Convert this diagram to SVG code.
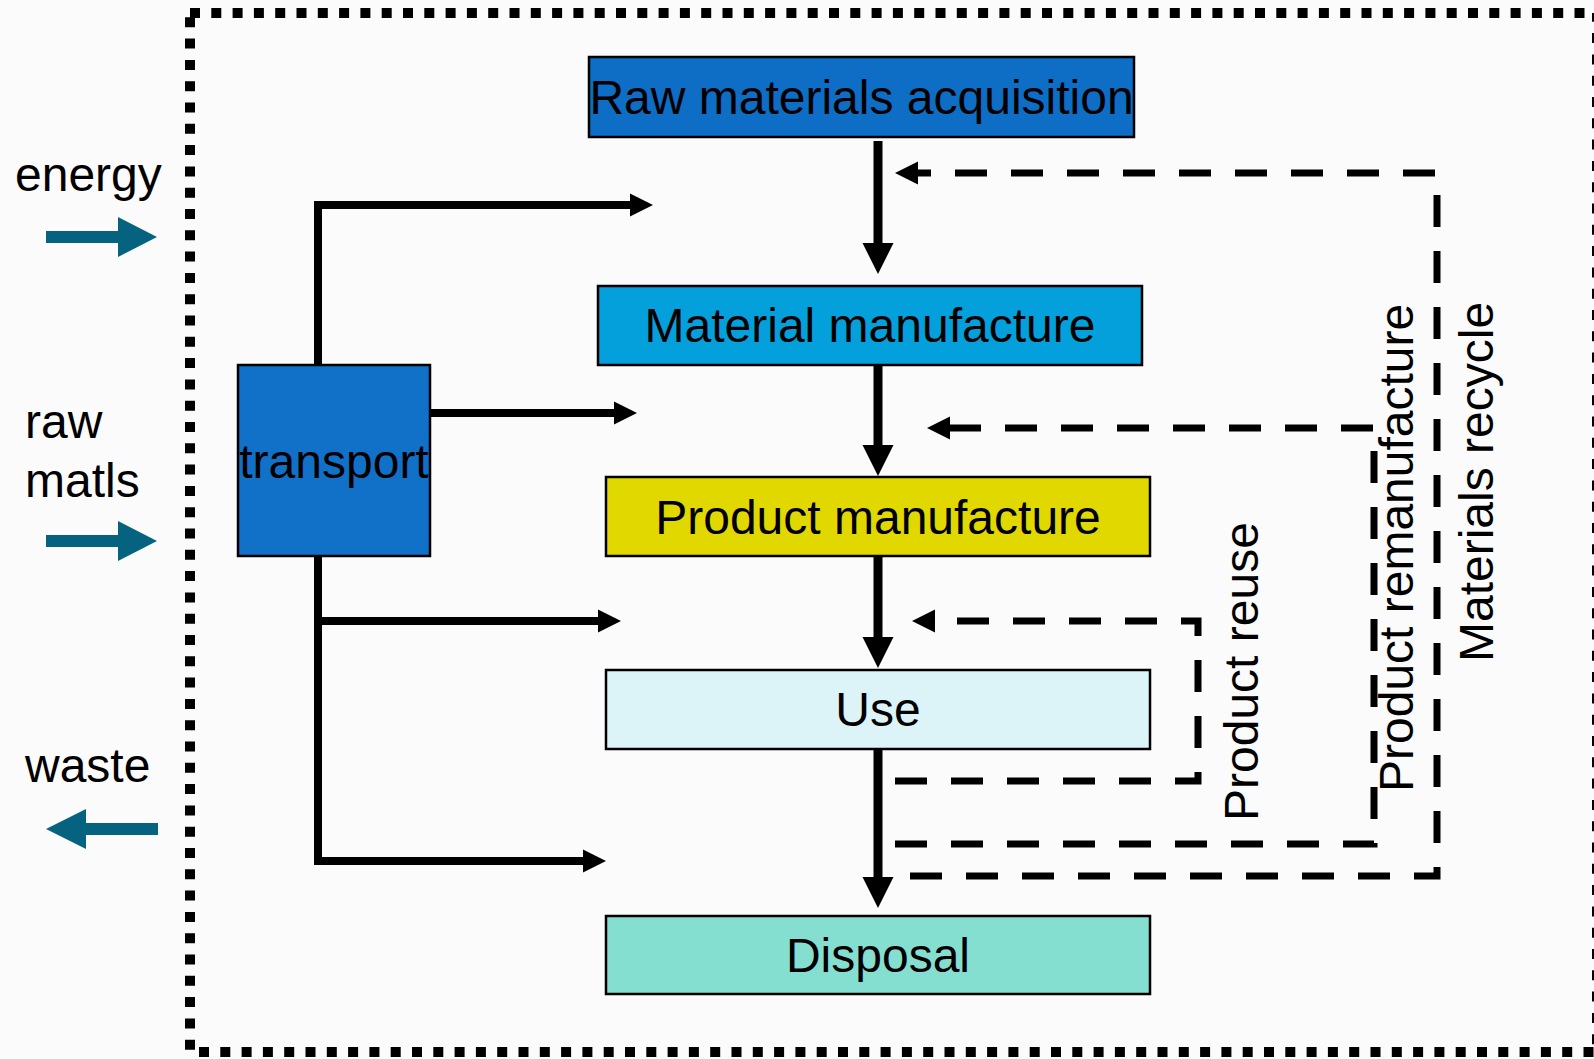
<svg xmlns="http://www.w3.org/2000/svg" width="1594" height="1059" viewBox="0 0 1594 1059">
<defs>
<style>
.box{stroke:#000;stroke-width:2.5}
.lbl{font-family:"Liberation Sans",Arial,sans-serif;font-size:48px;fill:#000}
.mid{text-anchor:middle}
.solid{fill:none;stroke:#000;stroke-linejoin:miter;stroke-linecap:butt}
.main{stroke-width:9}
.thin{stroke-width:8}
.dash{fill:none;stroke:#000;stroke-width:7;stroke-dasharray:32 24;stroke-linejoin:miter}
.side{fill:#06637f}
</style>
<marker id="big" markerUnits="userSpaceOnUse" markerWidth="32" markerHeight="32" refX="0" refY="15.5" orient="auto" viewBox="0 0 32 31">
<path d="M0,0 L31,15.5 L0,31 Z" fill="#000"/>
</marker>
<marker id="small" markerUnits="userSpaceOnUse" markerWidth="24" markerHeight="24" refX="0" refY="11.5" orient="auto" viewBox="0 0 24 23">
<path d="M0,0 L23,11.5 L0,23 Z" fill="#000"/>
</marker>
</defs>
<rect x="0" y="0" width="1594" height="1059" fill="#fbfbfb"/>
<rect id="boundary" x="190" y="13" width="1407" height="1039" fill="none" stroke="#000" stroke-width="10" stroke-dasharray="10 11.3"/>

<g id="connectors">
<line class="solid main" x1="878" y1="141" x2="878" y2="243" marker-end="url(#big)"/>
<line class="solid main" x1="878" y1="365" x2="878" y2="445" marker-end="url(#big)"/>
<line class="solid main" x1="878" y1="556" x2="878" y2="637" marker-end="url(#big)"/>
<line class="solid main" x1="878" y1="749" x2="878" y2="877" marker-end="url(#big)"/>
<path class="solid thin" d="M318,365 V205 H630" marker-end="url(#small)"/>
<path class="solid thin" d="M430,413 H614" marker-end="url(#small)"/>
<path class="solid thin" d="M318,556 V861 H583" marker-end="url(#small)"/>
<path class="solid thin" d="M318,621 H598" marker-end="url(#small)"/>
<path class="dash" d="M895,781 H1198 V621 H935" marker-end="url(#small)"/>
<path class="dash" d="M895,844 H1374 V428 H950" marker-end="url(#small)"/>
<path class="dash" d="M910,876 H1437 V173 H918" marker-end="url(#small)"/>
<polygon class="side" points="46,231 118,231 118,217 157,237 118,257 118,243 46,243"/>
<polygon class="side" points="46,535 118,535 118,521 157,541 118,561 118,547 46,547"/>
<polygon class="side" points="158,823 86,823 86,809 46,829 86,849 86,835 158,835"/>
</g>

<g id="raw-materials">
<rect class="box" x="589" y="57" width="545" height="80" fill="#0e6dc5"/>
<text class="lbl mid" x="861.5" y="114">Raw materials acquisition</text>
</g>
<g id="material-manufacture">
<rect class="box" x="598" y="286" width="544" height="79" fill="#04a0db"/>
<text class="lbl mid" x="870" y="342">Material manufacture</text>
</g>
<g id="product-manufacture">
<rect class="box" x="606" y="477" width="544" height="79" fill="#e1d800"/>
<text class="lbl mid" x="878" y="534">Product manufacture</text>
</g>
<g id="use">
<rect class="box" x="606" y="670" width="544" height="79" fill="#dcf4f8"/>
<text class="lbl mid" x="878" y="726">Use</text>
</g>
<g id="disposal">
<rect class="box" x="606" y="916" width="544" height="78" fill="#85dfd0"/>
<text class="lbl mid" x="878" y="972">Disposal</text>
</g>
<g id="transport">
<rect class="box" x="238" y="365" width="192" height="191" fill="#1170c7"/>
<text class="lbl mid" x="334" y="478">transport</text>
</g>

<g id="labels">
<text class="lbl" x="15" y="191">energy</text>
<text class="lbl" x="25" y="438">raw</text>
<text class="lbl" x="25" y="497">matls</text>
<text class="lbl" x="25" y="782">waste</text>
<text class="lbl" transform="translate(1258,821) rotate(-90)">Product reuse</text>
<text class="lbl" transform="translate(1413,792) rotate(-90)">Product remanufacture</text>
<text class="lbl" transform="translate(1493,662) rotate(-90)">Materials recycle</text>
</g>
</svg>
